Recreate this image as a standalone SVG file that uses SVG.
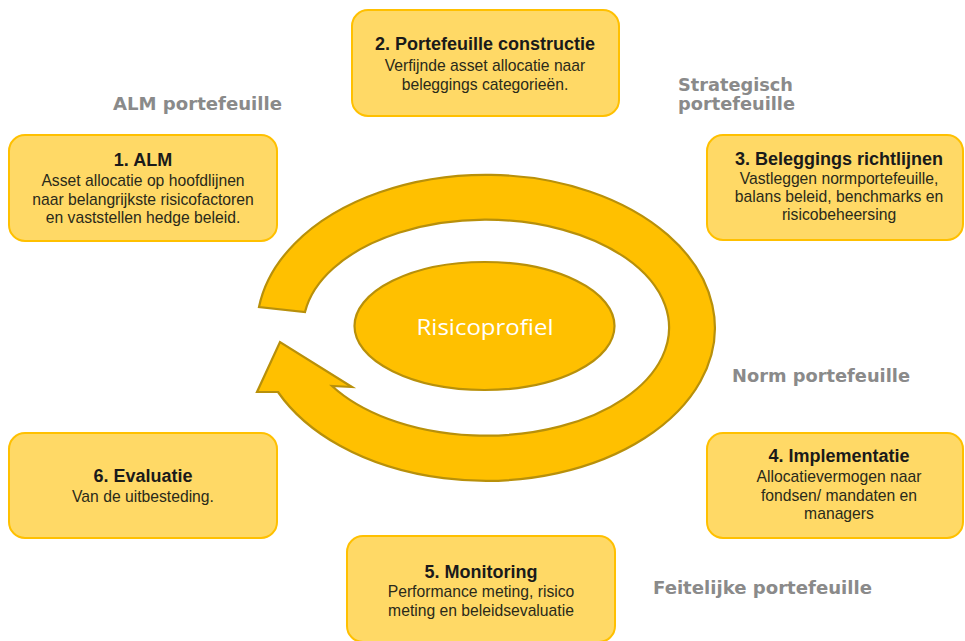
<svg xmlns="http://www.w3.org/2000/svg" width="965" height="641" viewBox="0 0 965 641">
<style>
.box{fill:#FFD966;stroke:#FFC000;stroke-width:2}
.t{font-family:"Liberation Sans",Arial,sans-serif;font-weight:bold;font-size:18px;fill:#1a1a1a;text-anchor:middle}
.b{font-family:"Liberation Sans",Arial,sans-serif;font-size:15.7px;fill:#2a2a1a;text-anchor:middle}
.g{font-family:"DejaVu Sans",Verdana,sans-serif;font-weight:bold;font-size:17.5px;fill:#8a8a8a}
.ring{fill:#FFC000;stroke:#B8900A;stroke-width:2.2;stroke-linejoin:miter}
</style>
<rect width="965" height="641" fill="#ffffff"/>
<g id="connectors">
<path class="ring" d="M 259,307 A 229 153 0 1 1 278,392 L 257,392 L 280,342 L 352,387 L 332,386 A 183 108 0 1 0 305,312 Z"/>
</g>
<g id="risicoprofiel">
<ellipse class="ring" cx="484.5" cy="326" rx="130" ry="64"/>
<text x="485" y="335" font-family="'Open Sans','Noto Sans',sans-serif" font-size="22.5" fill="#ffffff" text-anchor="middle" textLength="137" lengthAdjust="spacingAndGlyphs">Risicoprofiel</text>
</g>
<g id="node1">
<rect class="box" x="9" y="135" width="268" height="106" rx="16"/>
<text class="t" x="143" y="166">1. ALM</text>
<text class="b" x="143" y="186">Asset allocatie op hoofdlijnen</text>
<text class="b" x="143" y="205">naar belangrijkste risicofactoren</text>
<text class="b" x="143" y="223">en vaststellen hedge beleid.</text>
</g>
<g id="node2">
<rect class="box" x="352" y="10" width="267" height="106" rx="16"/>
<text class="t" x="485" y="50">2. Portefeuille constructie</text>
<text class="b" x="485" y="71">Verfijnde asset allocatie naar</text>
<text class="b" x="485" y="89.5">beleggings categorieën.</text>
</g>
<g id="node3">
<rect class="box" x="707" y="135" width="256" height="105" rx="16"/>
<text class="t" x="839" y="165">3. Beleggings richtlijnen</text>
<text class="b" x="839" y="184">Vastleggen normportefeuille,</text>
<text class="b" x="839" y="202">balans beleid, benchmarks en</text>
<text class="b" x="839" y="220">risicobeheersing</text>
</g>
<g id="node4">
<rect class="box" x="707" y="433" width="256" height="105" rx="16"/>
<text class="t" x="839" y="462">4. Implementatie</text>
<text class="b" x="839" y="482">Allocatievermogen naar</text>
<text class="b" x="839" y="501">fondsen/ mandaten en</text>
<text class="b" x="839" y="519">managers</text>
</g>
<g id="node5">
<rect class="box" x="347" y="536" width="268" height="106" rx="16"/>
<text class="t" x="481" y="578">5. Monitoring</text>
<text class="b" x="481" y="597">Performance meting, risico</text>
<text class="b" x="481" y="616">meting en beleidsevaluatie</text>
</g>
<g id="node6">
<rect class="box" x="9" y="433" width="268" height="105" rx="16"/>
<text class="t" x="143" y="482">6. Evaluatie</text>
<text class="b" x="143" y="502">Van de uitbesteding.</text>
</g>
<g id="labels">
<text class="g" x="113" y="110" textLength="169" lengthAdjust="spacingAndGlyphs">ALM portefeuille</text>
<text class="g" x="678" y="91" textLength="115" lengthAdjust="spacingAndGlyphs">Strategisch</text>
<text class="g" x="678" y="110" textLength="117" lengthAdjust="spacingAndGlyphs">portefeuille</text>
<text class="g" x="732" y="382" textLength="178" lengthAdjust="spacingAndGlyphs">Norm portefeuille</text>
<text class="g" x="653" y="594" textLength="219" lengthAdjust="spacingAndGlyphs">Feitelijke portefeuille</text>
</g>
</svg>
